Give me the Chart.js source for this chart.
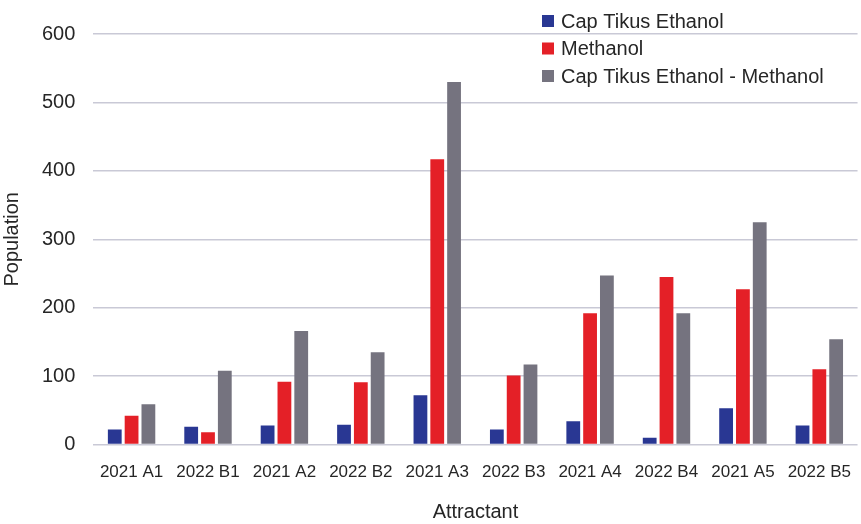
<!DOCTYPE html>
<html>
<head>
<meta charset="utf-8">
<script src="https://cdn.jsdelivr.net/npm/chart.js@4.4.0/dist/chart.umd.min.js"></script>
<style>
  html, body { margin: 0; padding: 0; background: #fff; }
  #wrap { width: 861px; height: 524px; }
</style>
</head>
<body>
<div id="wrap"><canvas id="grafico"></canvas></div>
<script>
// Categorias e valores
const categorias = ['2021 A1', '2022 B1', '2021 A2', '2022 B2', '2021 A3', '2022 B3', '2021 A4', '2022 B4', '2021 A5', '2022 B5'];
const capTikusEthanol = [22, 26, 28, 29, 72, 22, 34, 10, 53, 28];
const methanol = [42, 18, 92, 91, 417, 101, 192, 245, 227, 110];
const capTikusMethanol = [59, 108, 166, 135, 530, 117, 247, 192, 325, 154];
const ticksY = [0, 100, 200, 300, 400, 500, 600];

const corTexto = '#262626';
const corGrade = '#c9c9d6';

// Legenda desenhada sobre a área do gráfico, como no original
const legendaSobreposta = {
    id: 'legendaSobreposta',
    afterDraw(chart) {
        const c = chart.ctx;
        c.save();
        c.font = '20px "Liberation Sans", Arial, sans-serif';
        c.textBaseline = 'middle';
        chart.data.datasets.forEach((ds, i) => {
            const y = 21 + i * 27.5;
            c.fillStyle = ds.backgroundColor;
            c.fillRect(542, y - 6, 12, 12);
            c.fillStyle = corTexto;
            c.fillText(ds.label, 561, y + 1);
        });
        c.restore();
    }
};

new Chart(document.getElementById('grafico'), {
    type: 'bar',
    data: {
        labels: categorias,
        datasets: [
            { label: 'Cap Tikus Ethanol', data: capTikusEthanol, backgroundColor: '#293793' },
            { label: 'Methanol', data: methanol, backgroundColor: '#e42027' },
            { label: 'Cap Tikus Ethanol - Methanol', data: capTikusMethanol, backgroundColor: '#75737f' }
        ]
    },
    options: {
        responsive: true,
        maintainAspectRatio: false,
        animation: false,
        categoryPercentage: 0.66,
        barPercentage: 0.82,
        layout: { padding: { top: 34, left: 0, right: 0, bottom: 0 } },
        plugins: {
            legend: { display: false },
            tooltip: { enabled: false }
        },
        scales: {
            x: {
                grid: { display: false },
                border: { display: false },
                ticks: {
                    color: corTexto,
                    font: { family: '"Liberation Sans", Arial', size: 17 },
                    padding: 10,
                    autoSkip: false,
                    maxRotation: 0
                },
                title: {
                    display: true,
                    text: 'Attractant',
                    color: corTexto,
                    font: { family: '"Liberation Sans", Arial', size: 20 },
                    padding: { top: 7, bottom: 0 }
                }
            },
            y: {
                min: 0,
                max: 600,
                afterBuildTicks: (escala) => { escala.ticks = ticksY.map(v => ({ value: v })); },
                grid: { color: corGrade, lineWidth: 1.5, drawTicks: false },
                border: { display: false },
                ticks: {
                    color: corTexto,
                    font: { family: '"Liberation Sans", Arial', size: 20 },
                    padding: 18
                },
                title: {
                    display: true,
                    text: 'Population',
                    color: corTexto,
                    font: { family: '"Liberation Sans", Arial', size: 20 },
                    padding: { top: 0, bottom: 0 }
                }
            }
        }
    },
    plugins: [legendaSobreposta]
});
</script>
</body>
</html>
